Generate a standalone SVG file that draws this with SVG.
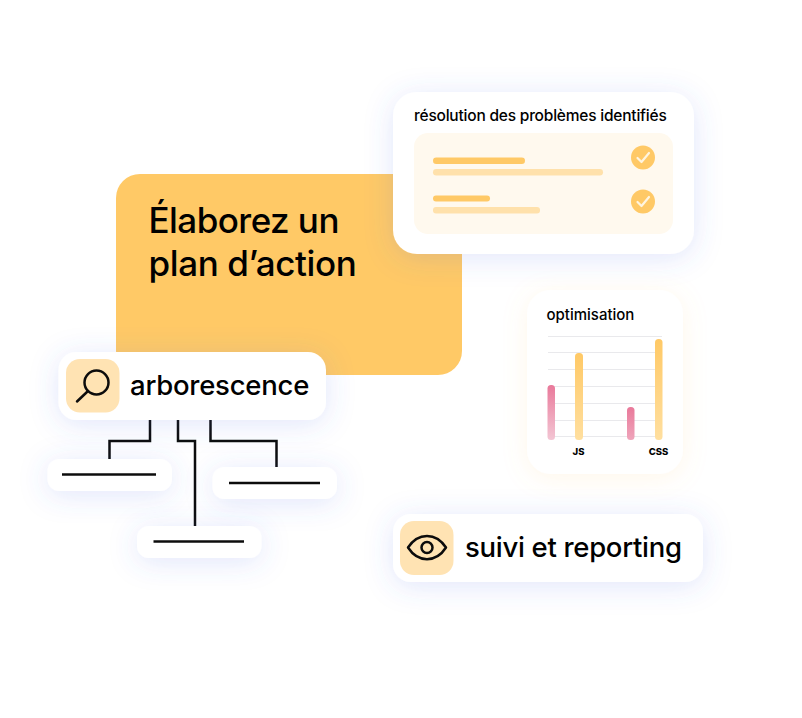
<svg xmlns="http://www.w3.org/2000/svg" width="802" height="718" viewBox="0 0 802 718">
<style>
text{font-family:Inter,"Liberation Sans",sans-serif;fill:#000;font-weight:450}
text.ax{font-weight:800;font-size:9.500px;text-anchor:middle}
.bl{fill:#fff;filter:url(#sb)}
.ln{fill:none;stroke:#0c0c0c;stroke-width:2.500}
.ic{fill:none;stroke:#0c0c0c;stroke-width:2.500;stroke-linecap:round}
.dk{fill:#ffc966}
.lt{fill:#ffe1ab}
.icb{fill:#ffe3b3}
.gr{stroke:#e9e9ec;stroke-width:1}
.ck{fill:none;stroke:#fff5e0;stroke-width:2.200;stroke-linecap:round;stroke-linejoin:round}
</style>
<defs>
<filter id="sb" x="-50%" y="-100%" width="200%" height="300%"><feDropShadow dx="0" dy="4" stdDeviation="14" flood-color="#4f66e6" flood-opacity=".17"/></filter>
<filter id="sy" x="-40%" y="-40%" width="180%" height="180%"><feDropShadow dx="0" dy="4" stdDeviation="12" flood-color="#ffc966" flood-opacity=".14"/></filter>
<linearGradient id="gp" x1="0" y1="0" x2="0" y2="1"><stop offset="0" stop-color="#e9799a"/><stop offset="1" stop-color="#f3c6d4"/></linearGradient>
<linearGradient id="gp2" x1="0" y1="0" x2="0" y2="1"><stop offset="0" stop-color="#e9799a"/><stop offset="1" stop-color="#efa5bb"/></linearGradient>
<linearGradient id="gy" x1="0" y1="0" x2="0" y2="1"><stop offset="0" stop-color="#ffc966"/><stop offset="1" stop-color="#ffdf9f"/></linearGradient>
</defs>
<g id="title">
<rect x="116" y="174" width="346" height="201" rx="24" fill="#ffc966"/>
<text x="148.500" y="233" font-size="35" letter-spacing="-.55">Élaborez un</text>
<text x="148.500" y="276" font-size="35" letter-spacing="-.4">plan d’action</text>
</g>
<g id="connectors">
<path class="ln" d="M150 420V441H109.500V459"/>
<path class="ln" d="M178 420V441H195V526"/>
<path class="ln" d="M210.500 420V441H276.500V467"/>
</g>
<g id="resolution">
<rect class="bl" x="393" y="92" width="301" height="162" rx="24"/>
<text x="414" y="121" font-size="15.500" letter-spacing="-.21">résolution des problèmes identifiés</text>
<rect x="414" y="133" width="259" height="101" rx="14" fill="#fff9ee"/>
<rect class="dk" x="433" y="157.500" width="92" height="6.500" rx="3.250"/>
<rect class="lt" x="433" y="169" width="170" height="6.500" rx="3.250"/>
<rect class="dk" x="433" y="195.500" width="57" height="6" rx="3"/>
<rect class="lt" x="433" y="207" width="107" height="6.500" rx="3"/>
<circle class="dk" cx="643" cy="157.500" r="12"/>
<path class="ck" d="M637.500 158L641.500 162L649 153"/>
<circle class="dk" cx="643" cy="201.500" r="12"/>
<path class="ck" d="M637.500 202L641.500 206L649 197"/>
</g>
<g id="optimisation">
<rect x="527" y="290" width="156" height="184" rx="24" fill="#fff" filter="url(#sy)"/>
<text x="546.500" y="320" font-size="15">optimisation</text>
<path class="gr" d="M548 336.500H662M548 352.500H662M548 369.500H662M548 386.500H662M548 403.500H662M548 420.500H662M548 436.500H662"/>
<rect x="547.500" y="385" width="7.500" height="55" rx="3.500" fill="url(#gp)"/>
<rect x="575" y="353" width="8" height="87" rx="3.500" fill="url(#gy)"/>
<rect x="627" y="407" width="7.500" height="33" rx="3.500" fill="url(#gp2)"/>
<rect x="655" y="339" width="7.500" height="101" rx="3.500" fill="url(#gy)"/>
<text class="ax" x="578.500" y="455">JS</text>
<text class="ax" x="658.500" y="455">CSS</text>
</g>
<g id="arborescence">
<rect class="bl" x="58.500" y="352" width="267.500" height="68" rx="18"/>
<rect class="icb" x="66" y="359" width="53.500" height="53.500" rx="14"/>
<circle class="ic" cx="96.500" cy="382.500" r="12"/>
<path class="ic" d="M87.500 391.500L77 401.500"/>
<text x="130" y="395" font-size="27.500" letter-spacing="-.24">arborescence</text>
</g>
<g id="leaf-left">
<rect class="bl" x="47.500" y="459" width="124.500" height="32" rx="12"/>
<path class="ln" d="M62 474.500H156"/>
</g>
<g id="leaf-right">
<rect class="bl" x="212.500" y="467" width="124.500" height="32" rx="12"/>
<path class="ln" d="M229 483H320"/>
</g>
<g id="leaf-bottom">
<rect class="bl" x="137" y="526" width="124.500" height="32" rx="12"/>
<path class="ln" d="M153.500 541.500H244"/>
</g>
<g id="suivi">
<rect class="bl" x="393" y="514" width="310" height="68" rx="18"/>
<rect class="icb" x="400" y="521" width="53.500" height="54" rx="14"/>
<path class="ic" d="M408 547.500C418 532 436 532 446 547.500C436 563 418 563 408 547.500Z" stroke-linejoin="round"/>
<circle class="ic" cx="427" cy="547.500" r="5.500"/>
<text x="465" y="557" font-size="27.500" letter-spacing="-.3">suivi et reporting</text>
</g>
</svg>
